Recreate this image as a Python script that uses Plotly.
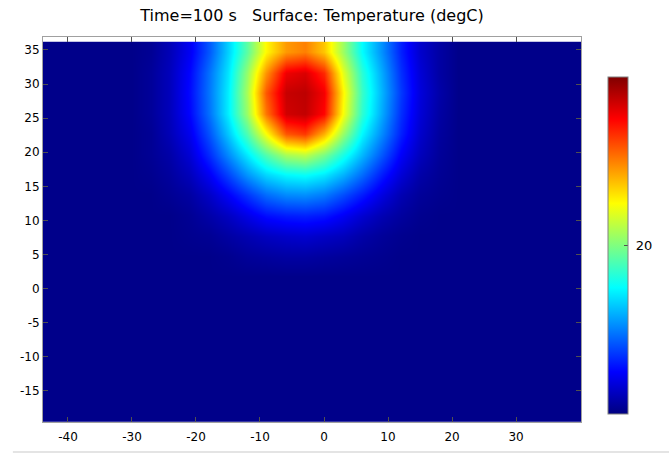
import numpy as np
import plotly.graph_objects as go

# Grid cell centres (data units)
x_centers = [-45, -42, -39, -36, -33, -30, -27, -24, -21, -18, -15, -12, -9, -6, -3,
             0, 3, 6, 9, 12, 15, 18, 21, 24, 27, 30, 33, 36, 39, 42]
y_centers = [-19.3, -16.3, -13.3, -10.3, -7.3, -4.3, -1.3, 1.7, 4.7, 7.7, 10.7,
             13.7, 16.7, 19.7, 22.7, 25.7, 28.7, 31.7, 34.7]

# Background temperature (degC) and the warm region
background_T = 19.02
patch_x = [-27, -24, -21, -18, -15, -12, -9, -6, -3, 0, 3, 6, 9, 12, 15, 18]
patch_y = [34.7, 31.7, 28.7, 25.7, 22.7, 19.7, 16.7, 13.7, 10.7, 7.7, 4.7]
patch_T = [
    [19.04, 19.11, 19.23, 19.42, 19.66, 19.93, 20.26, 20.45, 20.50, 20.36, 20.06, 19.75, 19.53, 19.31, 19.15, 19.07],
    [19.05, 19.12, 19.26, 19.47, 19.70, 20.04, 20.46, 20.78, 20.82, 20.67, 20.20, 19.83, 19.58, 19.34, 19.17, 19.07],
    [19.05, 19.12, 19.27, 19.48, 19.72, 20.08, 20.58, 20.86, 20.88, 20.77, 20.27, 19.86, 19.60, 19.36, 19.18, 19.08],
    [19.05, 19.12, 19.26, 19.47, 19.72, 20.05, 20.52, 20.84, 20.87, 20.74, 20.24, 19.84, 19.58, 19.34, 19.17, 19.07],
    [19.04, 19.11, 19.22, 19.41, 19.64, 19.90, 20.24, 20.58, 20.64, 20.40, 20.05, 19.74, 19.52, 19.31, 19.15, 19.06],
    [19.04, 19.08, 19.17, 19.33, 19.52, 19.71, 19.91, 20.08, 20.12, 19.99, 19.80, 19.61, 19.42, 19.24, 19.12, 19.05],
    [19.03, 19.06, 19.12, 19.23, 19.38, 19.54, 19.67, 19.74, 19.76, 19.71, 19.60, 19.46, 19.30, 19.17, 19.08, 19.04],
    [19.02, 19.04, 19.07, 19.14, 19.24, 19.35, 19.46, 19.52, 19.53, 19.49, 19.40, 19.30, 19.19, 19.10, 19.05, 19.03],
    [19.02, 19.02, 19.04, 19.08, 19.13, 19.20, 19.27, 19.30, 19.31, 19.29, 19.23, 19.16, 19.10, 19.06, 19.03, 19.02],
    [19.02, 19.02, 19.03, 19.04, 19.07, 19.10, 19.13, 19.15, 19.16, 19.14, 19.12, 19.08, 19.05, 19.03, 19.02, 19.02],
    [19.02, 19.02, 19.02, 19.02, 19.03, 19.05, 19.06, 19.07, 19.07, 19.06, 19.05, 19.04, 19.03, 19.02, 19.02, 19.02],
]

T_min, T_max = 19.0, 21.0
cbar_ticks = [20]
cbar_labels = ['\u00a020']
x_ticks = [-40, -30, -20, -10, 0, 10, 20, 30]
x_labels = ['-40', '-30', '-20', '-10', '0', '10', '20', '30']
y_ticks = [-15, -10, -5, 0, 5, 10, 15, 20, 25, 30, 35]
y_labels = ['-15', '-10', '-5', '0', '5', '10', '15', '20', '25', '30', '35']

# Build the field table
z = np.full((len(y_centers), len(x_centers)), background_T)
for i, yv in enumerate(patch_y):
    yi = min(range(len(y_centers)), key=lambda k: abs(y_centers[k] - yv))
    for j, xv in enumerate(patch_x):
        xj = x_centers.index(xv)
        z[yi, xj] = patch_T[i][j]

jet = [[0.0, 'rgb(0,0,128)'], [0.125, 'rgb(0,0,255)'], [0.375, 'rgb(0,255,255)'],
       [0.625, 'rgb(255,255,0)'], [0.875, 'rgb(255,0,0)'], [1.0, 'rgb(128,0,0)']]

FONT = "DejaVu Sans"

# colourbar geometry (paper units of the plot area)
CB_X, CB_Y, CB_LEN_PX, CB_W_PX = 1.0502, 0.4584, 337, 20
PLOT_W_PX, PLOT_H_PX = 538, 385

fig = go.Figure(go.Heatmap(
    x=x_centers, y=y_centers, z=z,
    zmin=T_min, zmax=T_max, zsmooth='best',
    colorscale=jet,
    colorbar=dict(
        x=CB_X, xanchor='left', xref='paper',
        y=CB_Y, yanchor='middle', yref='paper',
        len=CB_LEN_PX, lenmode='pixels', thickness=CB_W_PX, thicknessmode='pixels',
        outlinewidth=1, outlinecolor='#808080',
        tickvals=cbar_ticks, ticktext=cbar_labels,
        ticks='inside', ticklen=4, tickcolor='#505050',
        tickfont=dict(family=FONT, size=13, color='black'),
        xpad=0, ypad=0,
    ),
    hoverinfo='skip',
))

axis_common = dict(
    showgrid=False, zeroline=False, showline=True, linecolor='#a0a0a0', linewidth=1,
    mirror='ticks', ticks='inside', ticklen=5, tickcolor='#505050', tickwidth=1,
    tickfont=dict(family=FONT, size=12, color='black'),
)

# left-side tick marks on the colourbar (mirroring plotly's right-side ones)
cb_shapes = []
for tv in cbar_ticks:
    frac = (tv - T_min) / (T_max - T_min)
    yp = CB_Y + (frac - 0.5) * CB_LEN_PX / PLOT_H_PX
    cb_shapes.append(dict(type='line', xref='paper', yref='paper',
                          x0=CB_X + 1 / PLOT_W_PX, x1=CB_X + 5 / PLOT_W_PX, y0=yp, y1=yp,
                          line=dict(color='#505050', width=1)))

fig.update_layout(
    width=669, height=455,
    margin=dict(l=43, r=88, t=37, b=33),
    paper_bgcolor='white', plot_bgcolor='white',
    title=dict(text='Time=100 s\u00a0\u00a0\u00a0Surface: Temperature (degC)',
               x=0.5, xref='paper', xanchor='center',
               y=1 - 15 / 455, yref='container', yanchor='middle',
               font=dict(family=FONT, size=16, color='black')),
    xaxis=dict(range=[-43.9, 40.15], tickvals=x_ticks, ticktext=x_labels,
               ticklabelstandoff=4, **axis_common),
    yaxis=dict(range=[-19.55, 36.9], tickvals=y_ticks, ticktext=y_labels, **axis_common),
    shapes=[dict(type='line', xref='paper', yref='paper',
                 x0=-0.056, x1=1.2, y0=-0.078, y1=-0.078,
                 line=dict(color='#e4e4e4', width=2))] + cb_shapes,
)

fig.write_html("out.html", config={'displayModeBar': False},
               post_script="document.body.style.margin='0';")
